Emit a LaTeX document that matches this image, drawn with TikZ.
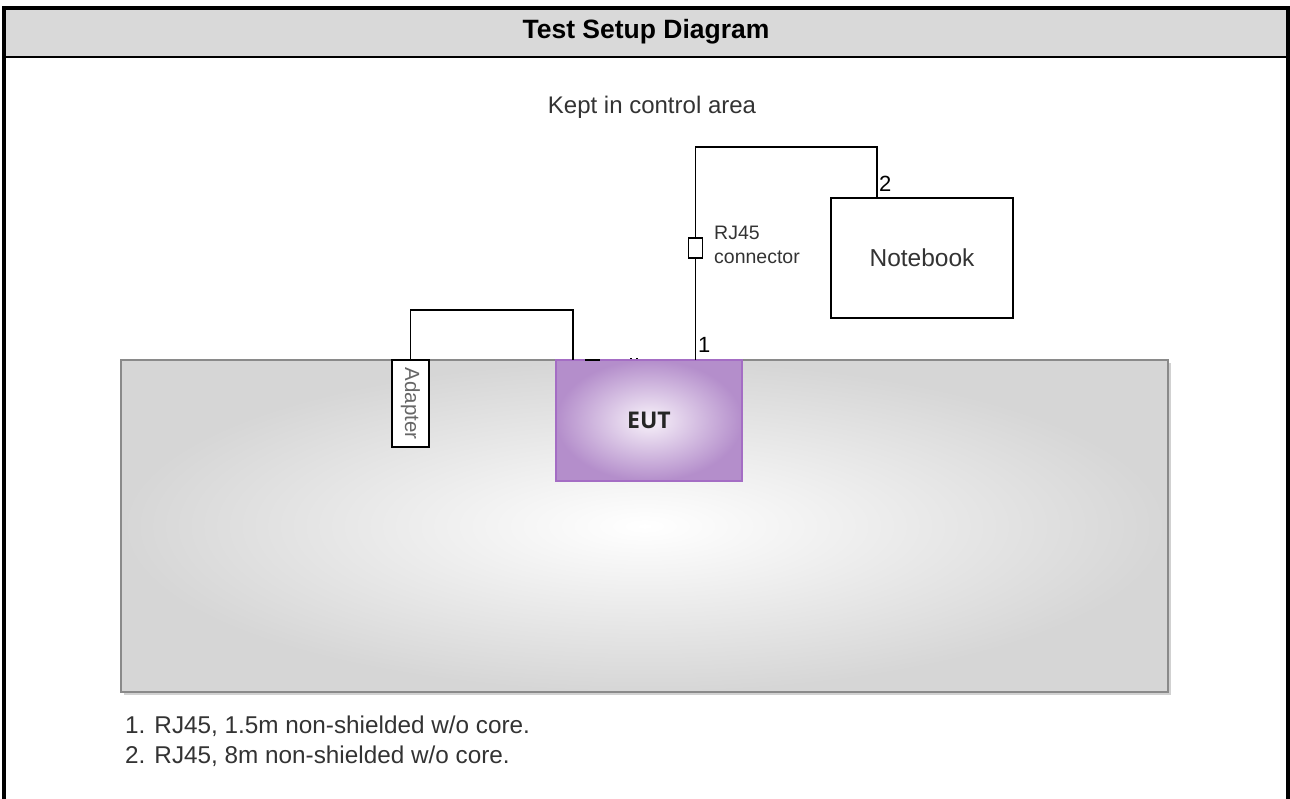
\documentclass[tikz,border=0pt]{standalone}
\usepackage{fontspec}
\setmainfont{Liberation Sans}
\newfontfamily\eutfont{Open Sans}
\usetikzlibrary{calc}
\definecolor{hdrgray}{HTML}{D9D9D9}
\definecolor{tblout}{HTML}{D6D6D6}
\definecolor{tblborder}{HTML}{8A8A8A}
\definecolor{eutout}{HTML}{B48ECB}
\definecolor{eutin}{HTML}{F8F2FA}
\definecolor{eutborder}{HTML}{A46DC4}
\definecolor{txtgray}{HTML}{333333}
\tikzset{
  cable/.style={draw=black, line width=1.9pt},
  boxw/.style={draw=black, line width=1.5pt, fill=white, inner sep=0pt},
  lbl/.style={inner sep=0pt, text=txtgray},
}
\begin{document}
\begin{tikzpicture}[x=1pt,y=-1pt]
\useasboundingbox (0,0) rectangle (1290,798);
% header
\fill[hdrgray] (4,7.5) rectangle (1288,57);
\draw[line width=2.5pt] (4,57) -- (1288,57);
\draw[line width=4pt] (4,810) -- (4,7.5) -- (1288,7.5) -- (1288,810);
\node[font=\bfseries\fontsize{26.5}{30}\selectfont, inner sep=0pt] (title) at (646,32) {Test Setup Diagram};
% kept label
\node[lbl, font=\fontsize{24}{28}\selectfont, anchor=base] (kept) at (652,113) {Kept in control area};
% table
\fill[gray!60, opacity=0.6] (124,363) rectangle (1171,695);
\node[draw=tblborder, line width=1.8pt, inner color=white, outer color=tblout,
      minimum width=1047pt, minimum height=332pt, inner sep=0pt] (table) at (644.5,526) {};
% EUT
\node[draw=eutborder, line width=1.5pt, inner color=eutin, outer color=eutout,
      minimum width=186pt, minimum height=121pt, inner sep=0pt,
      font=\eutfont\bfseries\fontsize{23}{28}\selectfont, text=black!85] (eut) at (649,420.5) {EUT};
% adapter
\node[boxw, minimum width=37pt, minimum height=87pt] (adp) at (410.5,403.5) {};
\node[lbl, text=black!60, rotate=-90, font=\fontsize{20.5}{22}\selectfont] (adptxt) at (adp.center) {Adapter};
% notebook
\node[boxw, minimum width=182pt, minimum height=120pt, font=\fontsize{24.5}{28}\selectfont, text=txtgray] (nb) at (922,258) {Notebook};
% RJ45 connector
\node[boxw, minimum width=14pt, minimum height=20pt] (rj) at (695.5,248) {};
\node[lbl, align=left, anchor=west, font=\fontsize{19.5}{24}\selectfont] (rjtxt) at (714,245) {RJ45\\connector};
% coordinates on EUT / notebook
\coordinate (eutA) at (573,360);
\coordinate (eutB) at (695.5,360);
\coordinate (nbA) at (877,198);
% cables
\draw[cable] (adp.north) -- ++(0,-49) -| (eutA);
\draw[cable] (eutB) -- (rj.south);
\draw[cable] (rj.north) -- ++(0,-90) -| (nbA);
% small marks on EUT top
\draw[line width=2pt] (585,359.5) -- (600,359.5);
\draw[line width=1.5pt] (630,358.5) -- (632,358.5);
\draw[line width=1.5pt] (636,358.5) -- (638,358.5);
% cable numbers
\node[lbl, anchor=base west, text=black, font=\fontsize{22}{26}\selectfont] (n1) at (698,352) {1};
\node[lbl, anchor=base west, text=black, font=\fontsize{22}{26}\selectfont] (n2) at (879,191) {2};
% notes
\node[lbl, anchor=base west, font=\fontsize{24.3}{28}\selectfont] (note1) at (125,733) {1. RJ45, 1.5m non-shielded w/o core.};
\node[lbl, anchor=base west, font=\fontsize{24.3}{28}\selectfont] (note2) at (125,763) {2. RJ45, 8m non-shielded w/o core.};
\end{tikzpicture}
\end{document}
